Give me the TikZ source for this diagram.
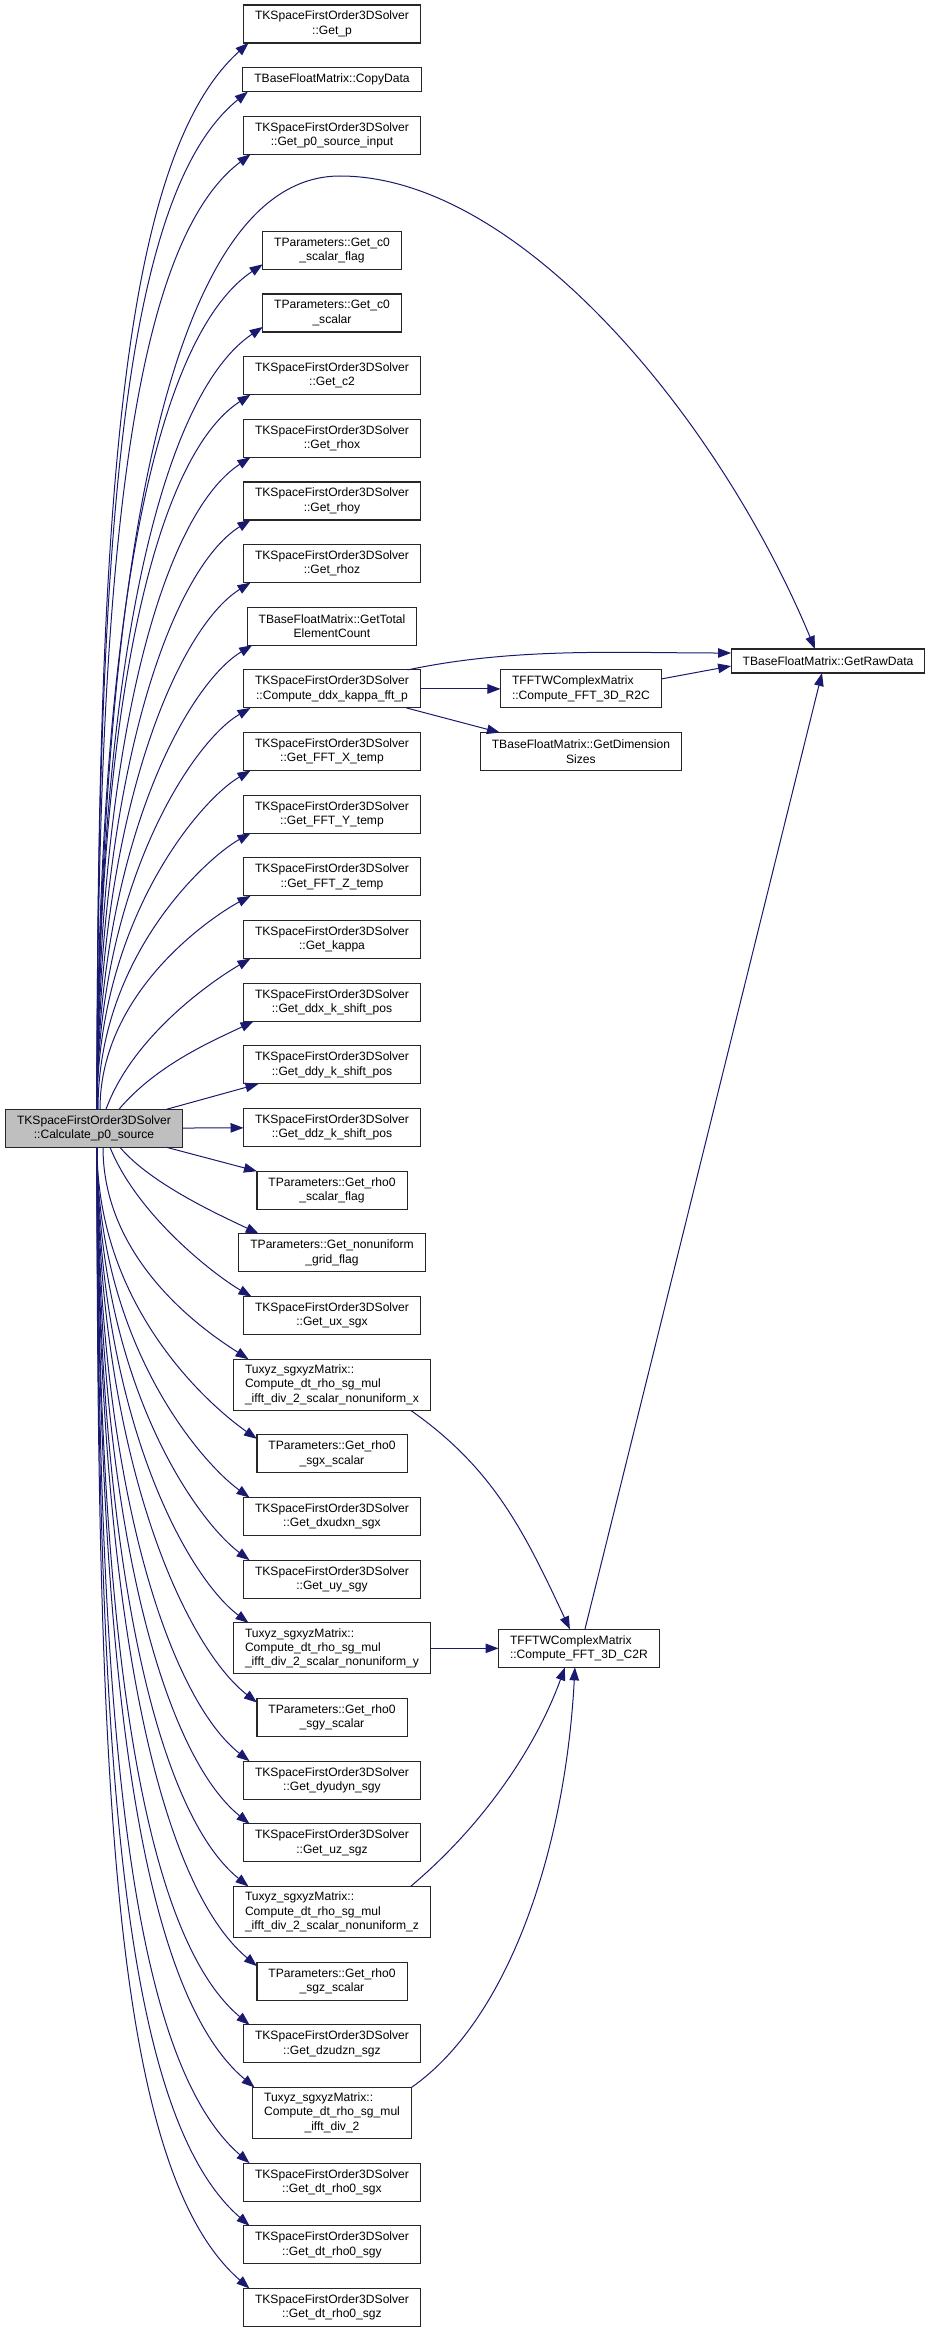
\documentclass[tikz,border=0pt]{standalone}
\usepackage{fontspec}
\setmainfont{Liberation Sans}
\usepackage{xcolor}
\usetikzlibrary{positioning}
\usetikzlibrary{arrows.meta}
\definecolor{edgeblue}{RGB}{25,25,112}

\begin{document}
\begin{tikzpicture}[x=1pt,y=1pt,node distance=24.66pt,
  fn/.style={draw=black!85,line width=1.1pt,fill=white,align=center,
    inner xsep=11.5pt,inner ysep=2pt,outer sep=0pt,minimum height=38pt,
    font=\fontsize{12.1}{14.3}\selectfont},
  fnone/.style={fn,minimum height=24pt},
  fnthree/.style={fn,align=left,minimum height=51pt},
  root/.style={fn,fill=black!25},
  call/.style={draw=edgeblue,line width=1pt,-{Triangle[length=13pt,width=9.5pt]}}]
  \useasboundingbox (0,0) rectangle (931,-2333);

  % caller
  \node[root] (calc) at (94,-1128.3) {TKSpaceFirstOrder3DSolver\\::Calculate\_p0\_source};

  % callees, one column
  \node[fn] (getp) at (332,-24) {TKSpaceFirstOrder3DSolver\\::Get\_p};
  \node[fnone] (copy) [below=of getp] {TBaseFloatMatrix::CopyData};
  \node[fn] (getpsrc) [below=of copy] {TKSpaceFirstOrder3DSolver\\::Get\_p0\_source\_input};
  \node[fn] (cflag) [below=77pt of getpsrc] {TParameters::Get\_c0\\\_scalar\_flag};
  \node[fn] (cscalar) [below=of cflag] {TParameters::Get\_c0\\\_scalar};
  \node[fn] (ctwo) [below=of cscalar] {TKSpaceFirstOrder3DSolver\\::Get\_c2};
  \node[fn] (rhox) [below=of ctwo] {TKSpaceFirstOrder3DSolver\\::Get\_rhox};
  \node[fn] (rhoy) [below=of rhox] {TKSpaceFirstOrder3DSolver\\::Get\_rhoy};
  \node[fn] (rhoz) [below=of rhoy] {TKSpaceFirstOrder3DSolver\\::Get\_rhoz};
  \node[fn] (total) [below=of rhoz] {TBaseFloatMatrix::GetTotal\\ElementCount};
  \node[fn] (ddxfft) [below=of total] {TKSpaceFirstOrder3DSolver\\::Compute\_ddx\_kappa\_fft\_p};
  \node[fn] (fftx) [below=of ddxfft] {TKSpaceFirstOrder3DSolver\\::Get\_FFT\_X\_temp};
  \node[fn] (ffty) [below=of fftx] {TKSpaceFirstOrder3DSolver\\::Get\_FFT\_Y\_temp};
  \node[fn] (fftz) [below=of ffty] {TKSpaceFirstOrder3DSolver\\::Get\_FFT\_Z\_temp};
  \node[fn] (kappa) [below=of fftz] {TKSpaceFirstOrder3DSolver\\::Get\_kappa};
  \node[fn] (ddxk) [below=of kappa] {TKSpaceFirstOrder3DSolver\\::Get\_ddx\_k\_shift\_pos};
  \node[fn] (ddyk) [below=of ddxk] {TKSpaceFirstOrder3DSolver\\::Get\_ddy\_k\_shift\_pos};
  \node[fn] (ddzk) [below=of ddyk] {TKSpaceFirstOrder3DSolver\\::Get\_ddz\_k\_shift\_pos};
  \node[fn] (rflag) [below=of ddzk] {TParameters::Get\_rho0\\\_scalar\_flag};
  \node[fn] (grid) [below=of rflag] {TParameters::Get\_nonuniform\\\_grid\_flag};
  \node[fn] (uxsgx) [below=of grid] {TKSpaceFirstOrder3DSolver\\::Get\_ux\_sgx};
  \node[fnthree] (mulx) [below=of uxsgx] {Tuxyz\_sgxyzMatrix::\\Compute\_dt\_rho\_sg\_mul\\\_ifft\_div\_2\_scalar\_nonuniform\_x};
  \node[fn] (rsgx) [below=of mulx] {TParameters::Get\_rho0\\\_sgx\_scalar};
  \node[fn] (dxudxn) [below=of rsgx] {TKSpaceFirstOrder3DSolver\\::Get\_dxudxn\_sgx};
  \node[fn] (uysgy) [below=of dxudxn] {TKSpaceFirstOrder3DSolver\\::Get\_uy\_sgy};
  \node[fnthree] (muly) [below=of uysgy] {Tuxyz\_sgxyzMatrix::\\Compute\_dt\_rho\_sg\_mul\\\_ifft\_div\_2\_scalar\_nonuniform\_y};
  \node[fn] (rsgy) [below=of muly] {TParameters::Get\_rho0\\\_sgy\_scalar};
  \node[fn] (dyudyn) [below=of rsgy] {TKSpaceFirstOrder3DSolver\\::Get\_dyudyn\_sgy};
  \node[fn] (uzsgz) [below=of dyudyn] {TKSpaceFirstOrder3DSolver\\::Get\_uz\_sgz};
  \node[fnthree] (mulz) [below=of uzsgz] {Tuxyz\_sgxyzMatrix::\\Compute\_dt\_rho\_sg\_mul\\\_ifft\_div\_2\_scalar\_nonuniform\_z};
  \node[fn] (rsgz) [below=of mulz] {TParameters::Get\_rho0\\\_sgz\_scalar};
  \node[fn] (dzudzn) [below=of rsgz] {TKSpaceFirstOrder3DSolver\\::Get\_dzudzn\_sgz};
  \node[fn,minimum height=51pt] (mulhalf) [below=of dzudzn] {\begin{tabular}{@{}l@{}}Tuxyz\_sgxyzMatrix::\\Compute\_dt\_rho\_sg\_mul\\\multicolumn{1}{@{}c@{}}{\_ifft\_div\_2}\end{tabular}};
  \node[fn] (dtx) [below=of mulhalf] {TKSpaceFirstOrder3DSolver\\::Get\_dt\_rho0\_sgx};
  \node[fn] (dty) [below=of dtx] {TKSpaceFirstOrder3DSolver\\::Get\_dt\_rho0\_sgy};
  \node[fn] (dtz) [below=of dty] {TKSpaceFirstOrder3DSolver\\::Get\_dt\_rho0\_sgz};

  % next level
  \node[fn,align=left] (rtoc) [right=80pt of ddxfft] {TFFTWComplexMatrix\\::Compute\_FFT\_3D\_R2C};
  \node[fn] (dimsizes) [below=of rtoc] {TBaseFloatMatrix::GetDimension\\Sizes};
  \node[fnone] (rawdata) at (828,-661) {TBaseFloatMatrix::GetRawData};
  \node[fn,align=left] (ctor) [right=68pt of muly] {TFFTWComplexMatrix\\::Compute\_FFT\_3D\_C2R};

  % calls going up
  \draw[call] ([xshift=3]calc.north) .. controls +(0,600) and +(222:172) .. ([xshift=5]getp.south west);
  \draw[call] ([xshift=3]calc.north) .. controls +(0,570) and +(219:162) .. ([xshift=5]copy.south west);
  \draw[call] ([xshift=3]calc.north) .. controls +(0,534) and +(217:152) .. ([xshift=7]getpsrc.south west);
  \draw[call] ([xshift=3]calc.north) .. controls (100,-560) and (170,-176) .. (340,-176)
    .. controls (520,-176) and (720,-420) .. ([xshift=-13]rawdata.north);
  \draw[call] ([xshift=3]calc.north) .. controls +(0,472) and +(214:135) .. ([yshift=5]cflag.south west);
  \draw[call] ([xshift=3]calc.north) .. controls +(0,437) and +(214:125) .. ([yshift=5]cscalar.south west);
  \draw[call] ([xshift=3]calc.north) .. controls +(0,400) and +(213:115) .. ([xshift=7]ctwo.south west);
  \draw[call] ([xshift=3]calc.north) .. controls +(0,365) and +(213:105) .. ([xshift=7]rhox.south west);
  \draw[call] ([xshift=3]calc.north) .. controls +(0,330) and +(212:95) .. ([xshift=7]rhoy.south west);
  \draw[call] ([xshift=3]calc.north) .. controls +(0,295) and +(212:86) .. ([xshift=7]rhoz.south west);
  \draw[call] ([xshift=3]calc.north) .. controls +(0,260) and +(211:77) .. ([xshift=5]total.south west);
  \draw[call] ([xshift=3]calc.north) .. controls +(0,224) and +(210:67) .. ([xshift=7]ddxfft.south west);
  \draw[call] ([xshift=3]calc.north) .. controls +(0,189) and +(210:58) .. ([xshift=7]fftx.south west);
  \draw[call] ([xshift=4]calc.north) .. controls +(0,154) and +(209:49) .. ([xshift=7]ffty.south west);
  \draw[call] ([xshift=6]calc.north) .. controls +(0,119) and +(208:41) .. ([xshift=7]fftz.south west);
  \draw[call] ([xshift=12]calc.north) .. controls +(70:80) and +(210:40) .. ([xshift=7]kappa.south west);
  \draw[call] ([xshift=25]calc.north) .. controls +(50:60) and +(206:40) .. ([xshift=10]ddxk.south west);
  \draw[call] ([xshift=-16]calc.north east) -- ([xshift=15]ddyk.south west);
  \draw[call] (calc) -- (ddzk);

  % calls going down
  \draw[call] ([xshift=-16]calc.south east) -- (rflag.north west);
  \draw[call] ([xshift=26]calc.south) .. controls +(-50:50) and +(154:35) .. ([xshift=20]grid.north west);
  \draw[call] ([xshift=16]calc.south) .. controls +(-68:75) and +(150:40) .. ([xshift=8]uxsgx.north west);
  \draw[call] ([xshift=9]calc.south) .. controls +(0,-119) and +(147:41) .. ([xshift=15]mulx.north west);
  \draw[call] ([xshift=3]calc.south) .. controls +(0,-164) and +(145:52) .. ([yshift=-4]rsgx.north west);
  \draw[call] ([xshift=3]calc.south) .. controls +(0,-196) and +(144:60) .. ([xshift=6]dxudxn.north west);
  \draw[call] ([xshift=3]calc.south) .. controls +(0,-232) and +(143:69) .. ([xshift=6]uysgy.north west);
  \draw[call] ([xshift=3]calc.south) .. controls +(0,-267) and +(143:78) .. ([xshift=15]muly.north west);
  \draw[call] ([xshift=3]calc.south) .. controls +(0,-311) and +(142:91) .. ([yshift=-4]rsgy.north west);
  \draw[call] ([xshift=3]calc.south) .. controls +(0,-344) and +(142:99) .. ([xshift=6]dyudyn.north west);
  \draw[call] ([xshift=3]calc.south) .. controls +(0,-380) and +(141:109) .. ([xshift=6]uzsgz.north west);
  \draw[call] ([xshift=3]calc.south) .. controls +(0,-414) and +(141:118) .. ([xshift=15]mulz.north west);
  \draw[call] ([xshift=3]calc.south) .. controls +(0,-459) and +(140:131) .. ([yshift=-4]rsgz.north west);
  \draw[call] ([xshift=3]calc.south) .. controls +(0,-492) and +(140:140) .. ([xshift=6]dzudzn.north west);
  \draw[call] ([xshift=3]calc.south) .. controls +(0,-527) and +(140:150) .. ([xshift=2]mulhalf.north west);
  \draw[call] ([xshift=3]calc.south) .. controls +(0,-570) and +(139:161) .. ([xshift=6]dtx.north west);
  \draw[call] ([xshift=3]calc.south) .. controls +(0,-605) and +(139:171) .. ([xshift=6]dty.north west);
  \draw[call] ([xshift=3]calc.south) .. controls +(0,-640) and +(139:181) .. ([xshift=6]dtz.north west);

  % second level calls
  \draw[call] ([xshift=-13]ddxfft.north east) .. controls +(12:110) and +(180:110) .. ([yshift=8]rawdata.west);
  \draw[call] (ddxfft) -- (rtoc);
  \draw[call] ([xshift=-14]ddxfft.south east) -- ([xshift=-81]dimsizes.north);
  \draw[call] ([yshift=10]rtoc.east) -- ([yshift=-5]rawdata.west);
  \draw[call] ([xshift=-20]mulx.south east) .. controls +(-35:100) and +(115:110) .. ([xshift=-9]ctor.north);
  \draw[call] (muly) -- (ctor);
  \draw[call] ([xshift=-20]mulz.north east) .. controls +(40:90) and +(-110:90) .. ([xshift=-14]ctor.south);
  \draw[call] (mulhalf.north east) .. controls +(35:120) and +(-93:180) .. ([xshift=-4]ctor.south);
  \draw[call] ([xshift=6]ctor.north) -- ([xshift=-6]rawdata.south);
\end{tikzpicture}
\end{document}
